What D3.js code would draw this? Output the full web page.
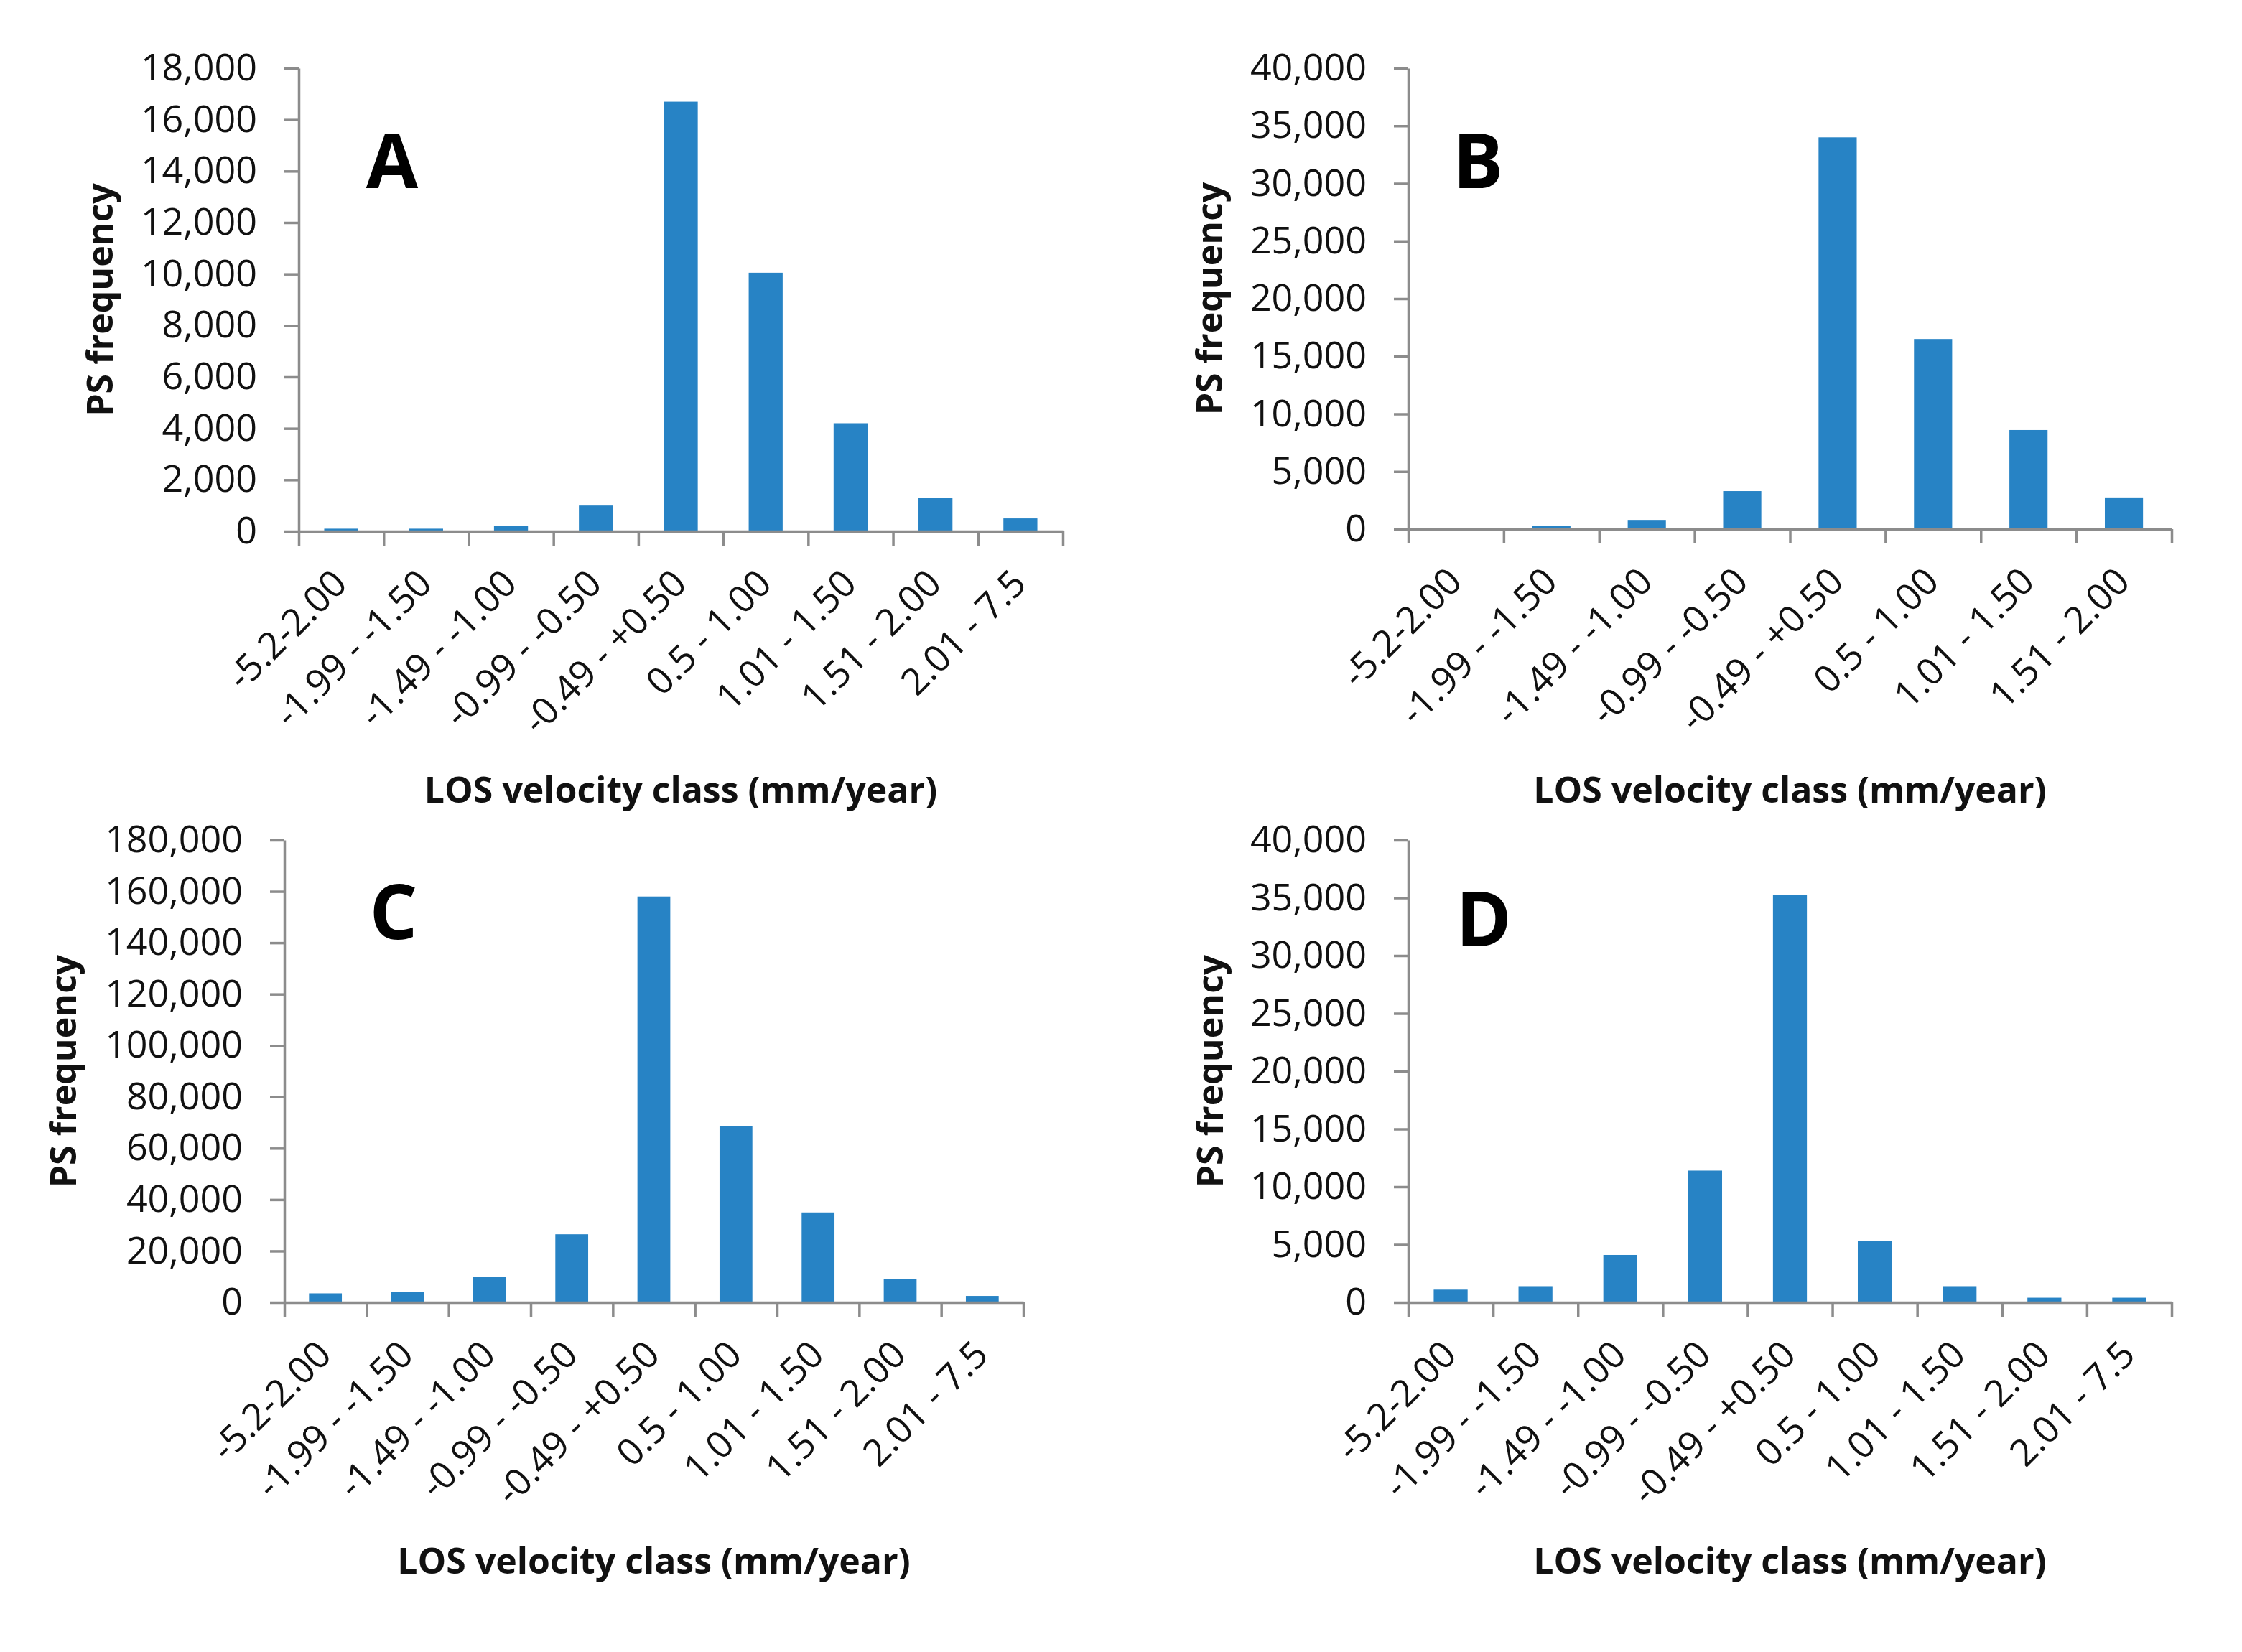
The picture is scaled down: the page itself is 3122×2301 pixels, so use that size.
<!DOCTYPE html>
<html>
<head>
<meta charset="utf-8">
<script src="https://cdn.jsdelivr.net/npm/d3@7"></script>
<style>
  body { margin: 0; background: #fff; }
  text { font-family: "Open Sans", sans-serif; }
</style>
</head>
<body>
<svg id="chart" width="3122" height="2301"></svg>
<script>
// velocity classes (mm/year)
var classes9 = ["-5.2-2.00", "-1.99 - -1.50", "-1.49 - -1.00", "-0.99 - -0.50", "-0.49 - +0.50",
                "0.5 - 1.00", "1.01 - 1.50", "1.51 - 2.00", "2.01 - 7.5"];
var classes8 = ["-5.2-2.00", "-1.99 - -1.50", "-1.49 - -1.00", "-0.99 - -0.50", "-0.49 - +0.50",
                "0.5 - 1.00", "1.01 - 1.50", "1.51 - 2.00"];

// PS frequency per class
var valuesA = [100, 100, 200, 1000, 16700, 10050, 4200, 1300, 500];
var valuesB = [0, 250, 800, 3300, 34000, 16500, 8600, 2750];
var valuesC = [3500, 4000, 10000, 26500, 158000, 68500, 35000, 9000, 2500];
var valuesD = [1100, 1400, 4100, 11400, 35250, 5300, 1400, 400, 400];

var ticksA = [0, 2000, 4000, 6000, 8000, 10000, 12000, 14000, 16000, 18000];
var ticksB = [0, 5000, 10000, 15000, 20000, 25000, 30000, 35000, 40000];
var ticksC = [0, 20000, 40000, 60000, 80000, 100000, 120000, 140000, 160000, 180000];
var ticksD = [0, 5000, 10000, 15000, 20000, 25000, 30000, 35000, 40000];

var panels = [
    { letter: "A", classes: classes9, values: valuesA, ticks: ticksA },
    { letter: "B", classes: classes8, values: valuesB, ticks: ticksB },
    { letter: "C", classes: classes9, values: valuesC, ticks: ticksC },
    { letter: "D", classes: classes9, values: valuesD, ticks: ticksD }
];

// where each plot sits on the page
var layout = {
    A: { left: 416, right: 1480, top: 95, bottom: 740, letterX: 546, letterY: 262, titleY: 1118, yTitleX: 157 },
    B: { left: 1961, right: 3024, top: 95, bottom: 737, letterX: 2058, letterY: 262, titleY: 1118, yTitleX: 1702 },
    C: { left: 396, right: 1425, top: 1170, bottom: 1814, letterX: 548, letterY: 1308, titleY: 2192, yTitleX: 106 },
    D: { left: 1961, right: 3024, top: 1170, bottom: 1814, letterX: 2066, letterY: 1318, titleY: 2192, yTitleX: 1703 }
};

var barColor = "#2783c5";
var axisColor = "#8c8c8c";
var textColor = "#111";

var svg = d3.select("#chart");
svg.append("rect").attr("width", 3122).attr("height", 2301).attr("fill", "#fff");

function styleAxis(g) {
    g.attr("font-family", null).attr("font-size", null);
    g.selectAll("path, line").attr("stroke", axisColor).attr("stroke-width", 3.5);
    g.selectAll("text").attr("fill", textColor).style("font-size", "52px");
}

function drawPanel(p) {
    var L = layout[p.letter];
    var n = p.classes.length;
    var g = svg.append("g");

    var x = d3.scaleBand().domain(p.classes).range([L.left, L.right])
        .paddingInner(0.6).paddingOuter(0.3);
    var edges = d3.scaleLinear().domain([0, n]).range([L.left, L.right]);
    var y = d3.scaleLinear().domain([0, p.ticks[p.ticks.length - 1]]).range([L.bottom, L.top]);

    g.selectAll(".bar")
        .data(p.values)
        .enter().append("rect")
        .attr("class", "bar")
        .attr("x", function(d, i) { return x(p.classes[i]); })
        .attr("width", x.bandwidth())
        .attr("y", function(d) { return y(d); })
        .attr("height", function(d) { return L.bottom - y(d); })
        .attr("fill", barColor);

    var yAxis = g.append("g")
        .attr("transform", "translate(" + L.left + ",0)")
        .call(d3.axisLeft(y).tickValues(p.ticks).tickFormat(d3.format(","))
            .tickSize(20).tickSizeOuter(0).tickPadding(38));
    styleAxis(yAxis);

    var xLine = g.append("g")
        .attr("transform", "translate(0," + L.bottom + ")")
        .call(d3.axisBottom(edges).tickValues(d3.range(n + 1)).tickFormat("")
            .tickSize(20).tickSizeOuter(0));
    styleAxis(xLine);

    var xLabels = g.append("g")
        .attr("transform", "translate(0," + L.bottom + ")")
        .call(d3.axisBottom(x).tickSize(0).tickPadding(0));
    xLabels.select(".domain").remove();
    styleAxis(xLabels);
    xLabels.selectAll("text")
        .attr("y", 0)
        .attr("dy", null)
        .attr("text-anchor", "end")
        .attr("transform", "translate(11,76) rotate(-45)");

    g.append("text")
        .attr("x", (L.left + L.right) / 2)
        .attr("y", L.titleY)
        .attr("text-anchor", "middle")
        .attr("fill", textColor)
        .style("font-size", "50px")
        .style("font-weight", "bold")
        .text("LOS velocity class (mm/year)");

    var cy = (L.top + L.bottom) / 2;
    g.append("text")
        .attr("transform", "translate(" + L.yTitleX + "," + cy + ") rotate(-90)")
        .attr("text-anchor", "middle")
        .attr("fill", textColor)
        .style("font-size", "50px")
        .style("font-weight", "bold")
        .text("PS frequency");

    g.append("text")
        .attr("x", L.letterX)
        .attr("y", L.letterY)
        .attr("text-anchor", "middle")
        .attr("fill", "#000")
        .style("font-size", "105px")
        .style("font-weight", "bold")
        .text(p.letter);
}

panels.forEach(drawPanel);
</script>
</body>
</html>
